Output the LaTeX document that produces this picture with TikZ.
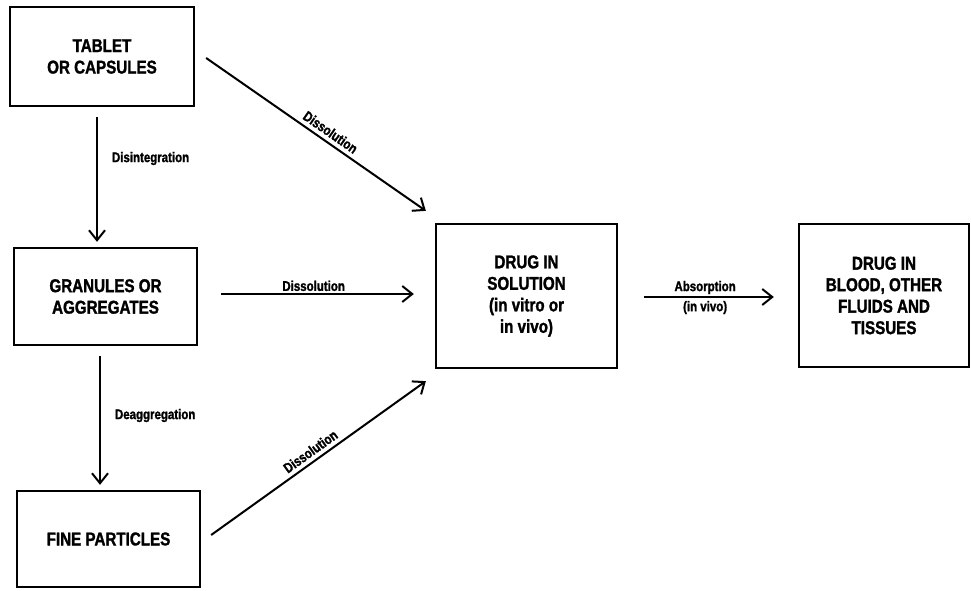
\documentclass[tikz,border=0pt]{standalone}
\usepackage{fontspec}
\setmainfont{Liberation Sans}[FakeStretch=0.82,FakeBold=1.5]
\usetikzlibrary{arrows.meta,calc}
\tikzset{
  box/.style={draw, line width=2.3pt, align=center, font=\bfseries\fontsize{18.5}{21.5}\selectfont, inner sep=0pt},
  arr/.style={line width=2pt, -{Straight Barb[length=10pt,width=16pt,line width=2pt]}},
  lbl/.style={font=\bfseries\fontsize{14}{16}\selectfont, inner sep=1pt}
}
\begin{document}
\begin{tikzpicture}[x=1pt,y=1pt]
\useasboundingbox (0,0) rectangle (971,590);
\node[box, minimum width=184, minimum height=99] (t) at (102,533.5) {TABLET\\OR CAPSULES};
\node[box, minimum width=183, minimum height=97] (g) at (105.5,293.5) {GRANULES OR\\AGGREGATES};
\node[box, minimum width=183, minimum height=96] (f) at (108.5,51) {FINE PARTICLES};
\node[box, minimum width=181, minimum height=144] (s) at (526.5,294) {DRUG IN\\SOLUTION\\(in vitro or\\in vivo)};
\node[box, minimum width=170, minimum height=143] (b) at (884,294.5) {DRUG IN\\BLOOD, OTHER\\FLUIDS AND\\TISSUES};

\draw[arr] ([xshift=-5,yshift=-10]t.south) -- node[lbl, right, xshift=13, yshift=21] (l1) {Disintegration} ([xshift=-8.5,yshift=5]g.north);
\draw[arr] ([xshift=-5.5,yshift=-10]g.south) -- node[lbl, right, xshift=13, yshift=5] (l2) {Deaggregation} ([xshift=-8.5,yshift=5]f.north);
\draw[arr] ([xshift=11,yshift=-1.5]t.east) -- node[lbl, sloped, above, pos=0.54, yshift=3] (l3) {Dissolution} ([xshift=-9,yshift=12]s.north west);
\draw[arr] ([xshift=23,yshift=2.5]g.east) -- node[lbl, above, pos=0.48, yshift=1] (l4) {Dissolution} ([xshift=-21,yshift=2]s.west);
\draw[arr] ([xshift=10,yshift=4]f.east) -- node[lbl, sloped, above, pos=0.49, yshift=3] (l5) {Dissolution} ([xshift=-9,yshift=-12]s.south west);
\draw[arr] ([xshift=26,yshift=-1]s.east) -- node[lbl, above, pos=0.47, yshift=1] (l6) {Absorption} node[lbl, below, pos=0.47, yshift=-2] (l7) {(in vivo)} ([xshift=-24,yshift=-1.5]b.west);
\end{tikzpicture}
\end{document}
